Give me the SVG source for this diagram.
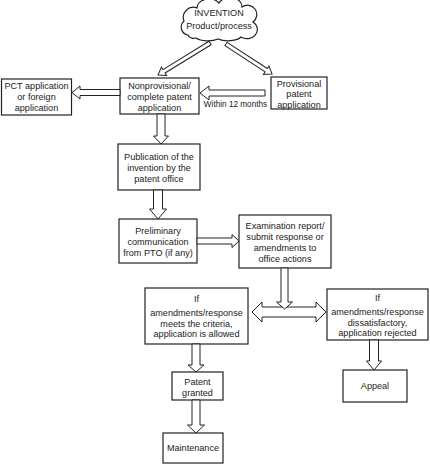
<svg xmlns="http://www.w3.org/2000/svg" width="430" height="465" viewBox="0 0 430 465">
<style>
.box{fill:#fff;stroke:#222;stroke-width:1.2}
.arr{fill:#fff;stroke:#222;stroke-width:1}
text{font-family:"Liberation Sans",Arial,sans-serif;font-size:9.1px;fill:#222;text-anchor:middle}
.sm{font-size:8.2px}
</style>
<rect width="430" height="465" fill="#fff"/>
<g id="invention">
<path class="box" d="M188,35 A8,8 0 0 1 184,21 A10,10 0 0 1 197,8 A12,9 0 0 1 219,3 A12,9 0 0 1 242,7 A9,9 0 0 1 253,22 A9,8 0 0 1 241,37 A14,6 0 0 1 218,39 A14,6 0 0 1 196,38 A6,5 0 0 1 188,35 Z"/>
<text x="219" y="15.5">INVENTION</text>
<text x="219" y="29">Product/process</text>
</g>
<g id="pct">
<rect class="box" x="1.5" y="79" width="70" height="36"/>
<text x="36.5" y="89">PCT application</text>
<text x="36.5" y="100">or foreign</text>
<text x="36.5" y="111">application</text>
</g>
<g id="nonprovisional">
<rect class="box" x="120" y="78" width="79" height="36"/>
<text x="159.5" y="88.5">Nonprovisional/</text>
<text x="159.5" y="99.5">complete patent</text>
<text x="159.5" y="110.5">application</text>
</g>
<g id="provisional">
<rect class="box" x="271" y="77" width="56" height="32"/>
<text x="299" y="86.5">Provisional</text>
<text x="299" y="97">patent</text>
<text x="299" y="107.5">application</text>
</g>
<g id="publication">
<rect class="box" x="118" y="144" width="82" height="46"/>
<text x="159" y="159.5">Publication of the</text>
<text x="159" y="170.5">invention by the</text>
<text x="159" y="182">patent office</text>
</g>
<g id="preliminary">
<rect class="box" x="119" y="219" width="78" height="44"/>
<text x="158" y="234">Preliminary</text>
<text x="158" y="245">communication</text>
<text x="158" y="256">from PTO (if any)</text>
</g>
<g id="examination">
<rect class="box" x="239" y="215" width="92" height="53"/>
<text x="285" y="229">Examination report/</text>
<text x="285" y="240">submit response or</text>
<text x="285" y="251">amendments to</text>
<text x="285" y="261.5">office actions</text>
</g>
<g id="allowed">
<rect class="box" x="145" y="288" width="103" height="56"/>
<text x="196.5" y="301.5">If</text>
<text x="196.5" y="316">amendments/response</text>
<text x="196.5" y="326.5">meets the criteria,</text>
<text x="196.5" y="337">application is allowed</text>
</g>
<g id="rejected">
<rect class="box" x="327" y="289" width="101" height="51"/>
<text x="377.5" y="300.5">If</text>
<text x="377.5" y="315">amendments/response</text>
<text x="377.5" y="326">dissatisfactory,</text>
<text x="377.5" y="336">application rejected</text>
</g>
<g id="granted">
<rect class="box" x="172" y="372" width="51" height="28"/>
<text x="197.5" y="385">Patent</text>
<text x="197.5" y="395.5">granted</text>
</g>
<g id="appeal">
<rect class="box" x="343" y="370" width="64" height="32"/>
<text x="375" y="388.5">Appeal</text>
</g>
<g id="maintenance">
<rect class="box" x="163" y="433" width="60" height="30"/>
<text x="193" y="451">Maintenance</text>
</g>
<g id="connectors">
<polygon class="arr" transform="translate(210,43) rotate(148.4)" points="0,-2 54,-2 54,-5 61,0 54,5 54,2 0,2"/>
<polygon class="arr" transform="translate(226,44) rotate(33.1)" points="0,-2 48,-2 48,-5 55,0 48,5 48,2 0,2"/>
<polygon class="arr" points="265,90 209,90 209,86 200,93 209,100 209,96 265,96"/>
<polygon class="arr" points="120,89.5 80,89.5 80,86 72,92.5 80,99 80,95.5 120,95.5"/>
<polygon class="arr" points="157,114 165,114 165,136 168.5,136 161,144 153.5,136 157,136"/>
<polygon class="arr" points="153.5,190 162.5,190 162.5,209 166.5,209 158,219 149.5,209 153.5,209"/>
<polygon class="arr" points="197,238 232,238 232,234.5 239,241 232,247.5 232,244 197,244"/>
<polygon class="arr" points="252,312 262,302 262,307 316,307 316,302 326,312 316,322 316,317 262,317 262,322"/>
<polygon class="arr" points="281,268 288,268 288,302 292.5,302 284.5,309 276.5,302 281,302"/>
<polygon class="arr" points="192,344 200,344 200,365 204,365 196,372 188,365 192,365"/>
<polygon class="arr" points="192,400 200,400 200,425 204.5,425 196,433 187.5,425 192,425"/>
<polygon class="arr" points="369.5,340 378.5,340 378.5,361 381.5,361 374,370 366.5,361 369.5,361"/>
<text class="sm" x="235.5" y="107">Within 12 months</text>
</g>
</svg>
